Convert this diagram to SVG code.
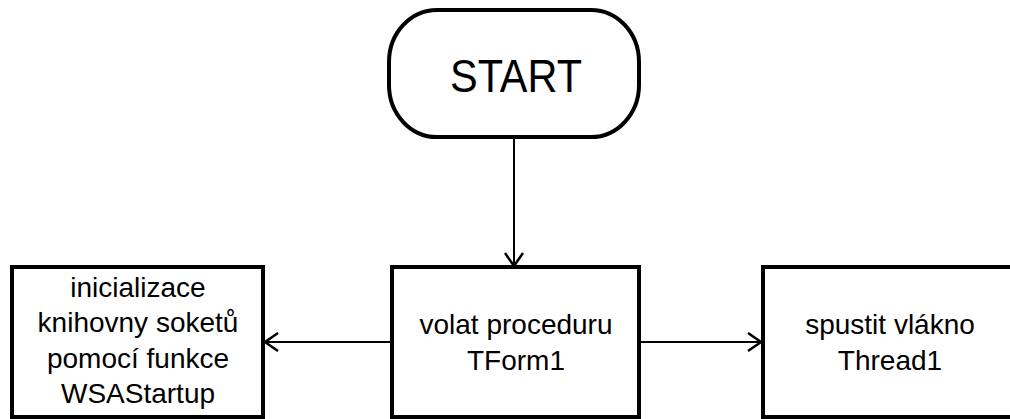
<svg xmlns="http://www.w3.org/2000/svg" width="1010" height="419" viewBox="0 0 1010 419">
<style>
.box{fill:#fff;stroke:#000;stroke-width:4}
.t{font-family:"Liberation Sans",Arial,sans-serif;font-size:28px;fill:#000;text-anchor:middle}
.edge{fill:none;stroke:#000;stroke-width:2}
</style>
<defs>
<marker id="arr" markerUnits="userSpaceOnUse" markerWidth="20" markerHeight="22" refX="15" refY="10" orient="auto">
<path d="M2,1 L15,10 L2,19" fill="none" stroke="#000" stroke-width="2.5"/>
</marker>
</defs>
<rect width="1010" height="419" fill="#fff"/>
<g id="connectors">
<line class="edge" x1="514" y1="137" x2="514" y2="266" marker-end="url(#arr)"/>
<line class="edge" x1="392" y1="342" x2="265" y2="342" marker-end="url(#arr)"/>
<line class="edge" x1="639" y1="342" x2="761" y2="342" marker-end="url(#arr)"/>
</g>
<g id="start">
<rect class="box" x="389" y="10" width="250" height="127" rx="48" ry="52"/>
<text class="t" x="516" y="92" style="font-size:47px" textLength="132" lengthAdjust="spacingAndGlyphs">START</text>
</g>
<g id="init">
<rect class="box" x="12" y="267" width="251" height="150"/>
<text class="t" x="138" y="297">inicializace</text>
<text class="t" x="138" y="332">knihovny soketů</text>
<text class="t" x="138" y="368">pomocí funkce</text>
<text class="t" x="138" y="403">WSAStartup</text>
</g>
<g id="volat">
<rect class="box" x="392" y="267" width="247" height="150"/>
<text class="t" x="516" y="334">volat proceduru</text>
<text class="t" x="516" y="370">TForm1</text>
</g>
<g id="thread">
<rect class="box" x="763" y="267" width="253" height="150"/>
<text class="t" x="890" y="334">spustit vlákno</text>
<text class="t" x="890" y="370">Thread1</text>
</g>
</svg>
